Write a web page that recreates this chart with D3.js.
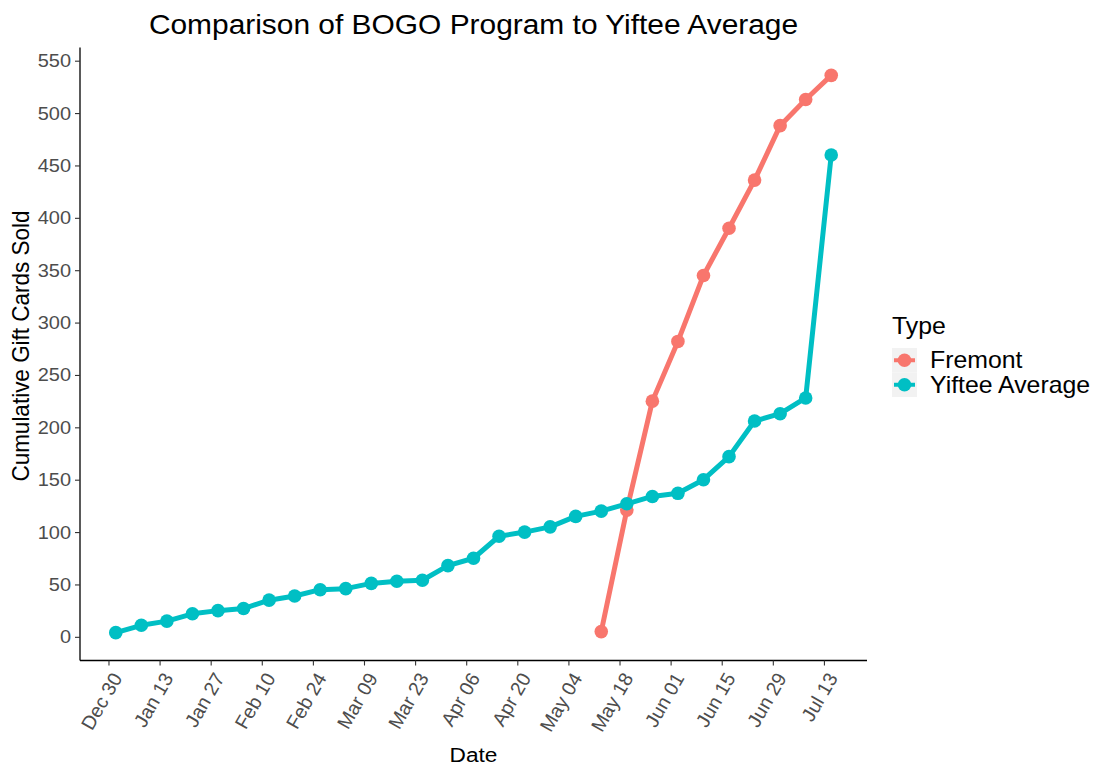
<!DOCTYPE html>
<html>
<head>
<meta charset="utf-8">
<script src="https://cdn.jsdelivr.net/npm/d3@7"></script>
<style>
  body { margin: 0; background: #fff; }
  text { font-family: "Liberation Sans", Arial, sans-serif; }
</style>
</head>
<body>
<div id="chart"></div>
<script>
// weekly dates (Yiftee average covers all, Fremont starts mid May)
const dates = ["2020-01-01", "2020-01-08", "2020-01-15", "2020-01-22", "2020-01-29",
	"2020-02-05", "2020-02-12", "2020-02-19", "2020-02-26", "2020-03-04",
	"2020-03-11", "2020-03-18", "2020-03-25", "2020-04-01", "2020-04-08",
	"2020-04-15", "2020-04-22", "2020-04-29", "2020-05-06", "2020-05-13",
	"2020-05-20", "2020-05-27", "2020-06-03", "2020-06-10", "2020-06-17",
	"2020-06-24", "2020-07-01", "2020-07-08", "2020-07-15"];
const yifteeValues = [4, 11, 15, 22, 25, 27, 35, 39, 45, 46, 51, 53, 54, 68, 75,
	96, 100, 105, 115, 120, 127, 134, 137, 150, 172, 206, 213, 228, 460];
const fremontDates = dates.slice(19);
const fremontValues = [5, 121, 225, 282, 345, 390, 436, 488, 513, 536];
const tickDates = ["2019-12-30", "2020-01-13", "2020-01-27", "2020-02-10", "2020-02-24",
	"2020-03-09", "2020-03-23", "2020-04-06", "2020-04-20", "2020-05-04",
	"2020-05-18", "2020-06-01", "2020-06-15", "2020-06-29", "2020-07-13"];
const yTicks = [0, 50, 100, 150, 200, 250, 300, 350, 400, 450, 500, 550];
const seriesNames = ["Fremont", "Yiftee Average"];
const seriesColors = ["#F8766D", "#00BFC4"];

const W = 1098, H = 767;
const panel = { left: 80, right: 867, top: 47.5, bottom: 660.5 };
const sx = 1.08; // picture is a bit wider than tall

const parse = d3.utcParse("%Y-%m-%d");
const series = [
	{ name: seriesNames[0], color: seriesColors[0],
		values: fremontDates.map((d, i) => ({ date: parse(d), value: fremontValues[i] })) },
	{ name: seriesNames[1], color: seriesColors[1],
		values: dates.map((d, i) => ({ date: parse(d), value: yifteeValues[i] })) }
];

const svg = d3.select("#chart").append("svg")
	.attr("width", W)
	.attr("height", H);

// ggplot style 5% expansion
const allPts = series.flatMap(s => s.values);
const xExt = d3.extent(allPts, d => d.date);
const xPad = (xExt[1] - xExt[0]) * 0.05;
const x = d3.scaleUtc()
	.domain([new Date(+xExt[0] - xPad), new Date(+xExt[1] + xPad)])
	.range([panel.left, panel.right]);

const yExt = d3.extent(allPts, d => d.value);
const yPad = (yExt[1] - yExt[0]) * 0.05;
const y = d3.scaleLinear()
	.domain([yExt[0] - yPad, yExt[1] + yPad])
	.range([panel.bottom, panel.top]);

// y axis
const yAxis = svg.append("g")
	.attr("transform", `translate(${panel.left},0)`)
	.call(d3.axisLeft(y).tickValues(yTicks).tickSize(5).tickSizeOuter(0));
yAxis.select(".domain").attr("stroke", "#000").attr("stroke-width", 1.3)
	.attr("d", `M0,${panel.bottom}V${panel.top}`);
yAxis.selectAll(".tick line").attr("stroke", "#333").attr("stroke-width", 1.1);
yAxis.selectAll(".tick text")
	.attr("x", -9 / sx)
	.attr("transform", `scale(${sx},1)`)
	.attr("fill", "#4D4D4D")
	.style("font-size", "18.5px");

// x axis
const xAxis = svg.append("g")
	.attr("transform", `translate(0,${panel.bottom})`)
	.call(d3.axisBottom(x)
		.tickValues(tickDates.map(parse))
		.tickFormat(d3.utcFormat("%b %d"))
		.tickSize(5).tickSizeOuter(0));
xAxis.select(".domain").attr("stroke", "#000").attr("stroke-width", 1.3)
	.attr("d", `M${panel.left},0H${panel.right}`);
xAxis.selectAll(".tick line").attr("stroke", "#333").attr("stroke-width", 1.1);
xAxis.selectAll(".tick text")
	.attr("x", 0).attr("y", 0).attr("dy", "0.35em")
	.attr("text-anchor", "end")
	.attr("transform", "translate(8,14) rotate(-60)")
	.attr("fill", "#4D4D4D")
	.style("font-size", "19.5px");

// lines + points
const line = d3.line()
	.x(d => x(d.date))
	.y(d => y(d.value));

const g = svg.append("g");
series.forEach(s => {
	g.append("path")
		.datum(s.values)
		.attr("fill", "none")
		.attr("stroke", s.color)
		.attr("stroke-width", 5)
		.attr("stroke-linejoin", "round")
		.attr("d", line);
	g.selectAll(null)
		.data(s.values)
		.enter()
		.append("circle")
		.attr("cx", d => x(d.date))
		.attr("cy", d => y(d.value))
		.attr("r", 6.8)
		.attr("fill", s.color);
});

// stretched text helper
function label(txt, px, py, size, opts = {}) {
	const t = svg.append("text")
		.attr("transform", `translate(${px},${py}) scale(${sx},1)` + (opts.rotate ? ` rotate(${opts.rotate})` : ""))
		.attr("text-anchor", opts.anchor || "start")
		.attr("fill", opts.fill || "#000")
		.style("font-size", size + "px")
		.text(txt);
	if (opts.dy) t.attr("dy", opts.dy);
	return t;
}

label("Comparison of BOGO Program to Yiftee Average", (panel.left + panel.right) / 2, 34, 27.7, { anchor: "middle" });
label("Date", (panel.left + panel.right) / 2, 762, 21, { anchor: "middle" });
label("Cumulative Gift Cards Sold", 29, 346, 22.5, { anchor: "middle", rotate: -90 });

// legend
const legend = svg.append("g");
label("Type", 892, 334, 23);
const keyH = 24.5, keyTop = 348;
series.forEach((s, i) => {
	const cy = keyTop + keyH * i + keyH / 2;
	legend.append("rect")
		.attr("x", 892).attr("y", keyTop + keyH * i)
		.attr("width", 25).attr("height", keyH)
		.attr("fill", "#F2F2F2");
	legend.append("line")
		.attr("x1", 894).attr("x2", 915)
		.attr("y1", cy).attr("y2", cy)
		.attr("stroke", s.color).attr("stroke-width", 4);
	legend.append("circle")
		.attr("cx", 904.5).attr("cy", cy).attr("r", 6.8)
		.attr("fill", s.color);
	label(s.name, 930, cy, 23, { dy: "0.35em" });
});
</script>
</body>
</html>
